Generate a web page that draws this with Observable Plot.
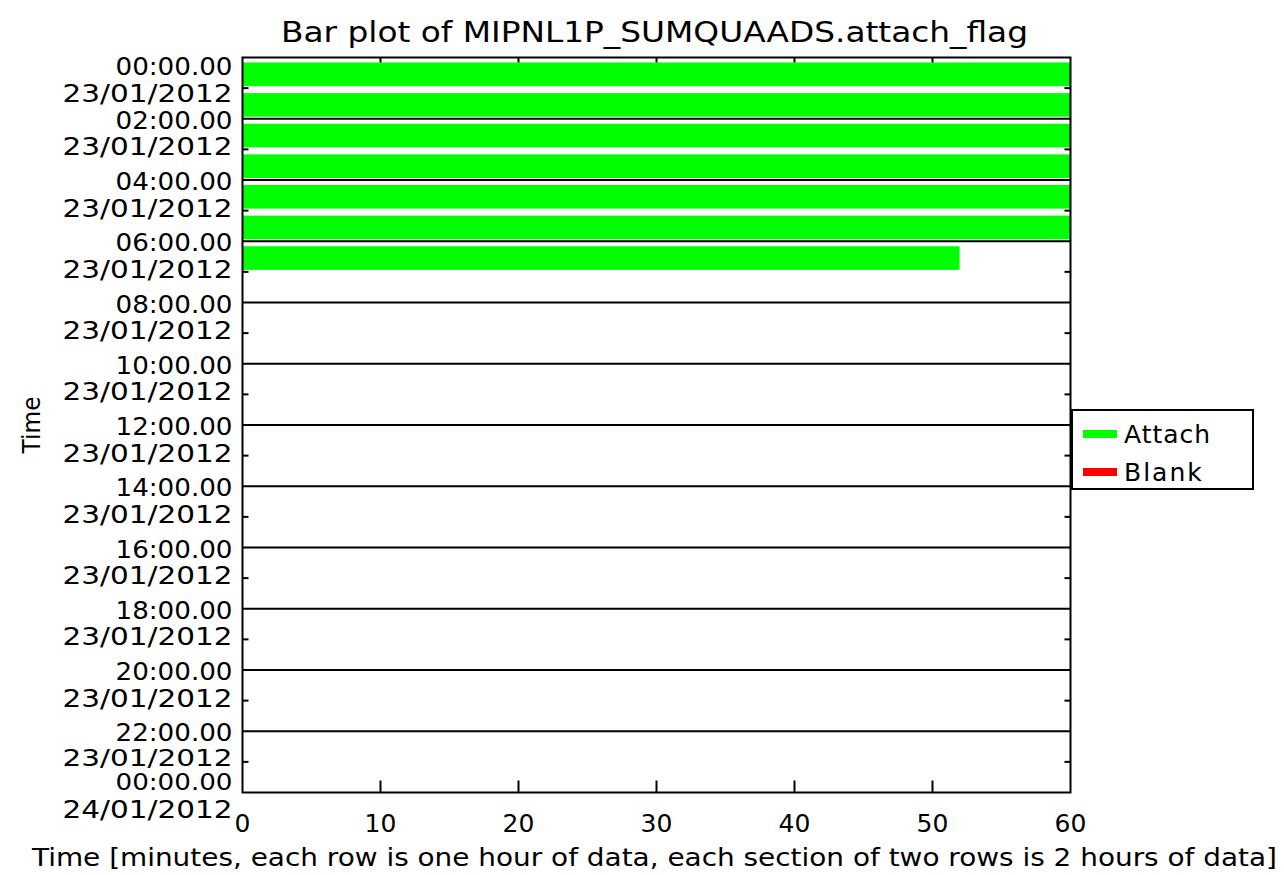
<!DOCTYPE html>
<html><head><meta charset="utf-8">
<script src="https://cdn.jsdelivr.net/npm/d3@7"></script>
<script src="https://cdn.jsdelivr.net/npm/@observablehq/plot@0.6"></script>
<style>
body{margin:0;background:#fff;}
#wrap{position:relative;width:1284px;height:875px;}
#legend{position:absolute;left:1071px;top:409px;width:179px;height:77px;border:2px solid #000;background:#fff;font-family:"DejaVu Sans";font-size:25px;color:#000;}
.item{position:absolute;left:10px;height:30px;display:flex;align-items:center;white-space:nowrap;}
.sw{width:34px;height:8px;margin-right:7px;}
</style></head><body><div id="wrap"></div>
<script>
const title = "Bar plot of MIPNL1P_SUMQUAADS.attach_flag";
const xAxisLabel = "Time [minutes, each row is one hour of data, each section of two rows is 2 hours of data]";
const yAxisLabel = "Time";
const hours = [0, 1, 2, 3, 4, 5, 6];
const attachMinutes = [60, 60, 60, 60, 60, 60, 52];
const blankMinutes = [0, 0, 0, 0, 0, 0, 0];
const seriesNames = ["Attach", "Blank"];
const seriesColors = ["#00ff00", "#ff0000"];
const sectionHours = [0, 2, 4, 6, 8, 10, 12, 14, 16, 18, 20, 22, 24];
const timeLabels = ["00:00.00","02:00.00","04:00.00","06:00.00","08:00.00","10:00.00","12:00.00","14:00.00","16:00.00","18:00.00","20:00.00","22:00.00","00:00.00"];
const dateLabels = ["23/01/2012","23/01/2012","23/01/2012","23/01/2012","23/01/2012","23/01/2012","23/01/2012","23/01/2012","23/01/2012","23/01/2012","23/01/2012","23/01/2012","24/01/2012"];
const xTicks = [0, 10, 20, 30, 40, 50, 60];
const xInnerTicks = [10, 20, 30, 40, 50];
const rowBoundaries = [1, 3, 5, 7, 9, 11, 13, 15, 17, 19, 21, 23];

const rows = hours.map((h, i) => ({hour: h, attach: attachMinutes[i], blank: blankMinutes[i]}));
const labels = sectionHours.map((h, i) => ({hour: h, time: timeLabels[i], date: dateLabels[i]}));
const isMid = d => d.hour > 0 && d.hour < 22;
const is22 = d => d.hour === 22;
const isFirst = d => d.hour === 0;
const isLast = d => d.hour === 24;

const upTick = {draw(ctx) { ctx.moveTo(0, 0); ctx.lineTo(0, -12); }};
const downTick = {draw(ctx) { ctx.moveTo(0, 0); ctx.lineTo(0, 5); }};
const rightTick = {draw(ctx) { ctx.moveTo(0, 0); ctx.lineTo(6, 0); }};
const leftTick = {draw(ctx) { ctx.moveTo(0, 0); ctx.lineTo(-6, 0); }};

const F = 25;
const yText = (filter, key, dy, fs = F) => Plot.text(labels, {filter, y: "hour", text: key, frameAnchor: "left", textAnchor: "end", lineAnchor: "middle", dx: -10, dy, fontSize: fs, fill: "black"});

const chart = Plot.plot({
  width: 1284, height: 875,
  marginLeft: 242, marginRight: 214, marginTop: 57, marginBottom: 83,
  style: {fontFamily: "DejaVu Sans", fontSize: "25px", color: "black", background: "white"},
  x: {domain: [0, 60], axis: null},
  y: {domain: [0, 24], reverse: true, axis: null},
  marks: [
    Plot.rectX(rows, {x: "attach", y: "hour", interval: 1, fill: seriesColors[0], insetTop: 5.5, insetBottom: 1.5}),
    Plot.rectX(rows, {filter: d => d.blank > 0, x: "blank", y: "hour", interval: 1, fill: seriesColors[1], insetTop: 5.5, insetBottom: 1.5}),
    Plot.ruleY(sectionHours.filter(h => h > 0 && h < 24), {stroke: "black", strokeWidth: 2}),
    Plot.frame({stroke: "black", strokeWidth: 2}),
    Plot.dot(xInnerTicks, {x: d => d, frameAnchor: "bottom", symbol: upTick, fill: "none", stroke: "black", strokeWidth: 2}),
    Plot.dot(xInnerTicks, {x: d => d, frameAnchor: "top", symbol: downTick, fill: "none", stroke: "black", strokeWidth: 2}),
    Plot.dot(rowBoundaries, {y: d => d, frameAnchor: "left", symbol: rightTick, fill: "none", stroke: "black", strokeWidth: 2}),
    Plot.dot(rowBoundaries, {y: d => d, frameAnchor: "right", symbol: leftTick, fill: "none", stroke: "black", strokeWidth: 2}),
    yText(isMid, "time", 2),
    yText(isMid, "date", 28.5),
    yText(is22, "time", 2),
    yText(is22, "date", 27.5, 23),
    yText(isFirst, "time", 9.5),
    yText(isFirst, "date", 36),
    yText(isLast, "time", -10, 23),
    yText(isLast, "date", 17),
    Plot.text(xTicks, {x: d => d, text: d => String(d), frameAnchor: "bottom", lineAnchor: "middle", dy: 31, fontSize: F, fill: "black"}),
    Plot.text([xAxisLabel], {frameAnchor: "bottom", lineAnchor: "middle", dx: -2, dy: 65, fontSize: F, fill: "black"}),
    Plot.text([yAxisLabel], {frameAnchor: "left", textAnchor: "middle", lineAnchor: "middle", dx: -211, dy: 0, rotate: -90, fontSize: F, fill: "black"}),
    Plot.text([title], {frameAnchor: "top", textAnchor: "middle", lineAnchor: "middle", dx: -2, dy: -25, fontSize: 29, fill: "black"})
  ]
});

const lengths = new Map([[title, 747], [xAxisLabel, 1245], ["23/01/2012", 170], ["24/01/2012", 170], [yAxisLabel, 57]]);
chart.querySelectorAll("text").forEach(t => {
  const s = t.textContent;
  let L = lengths.get(s);
  if (L == null && /^\d\d:\d\d\.\d\d$/.test(s)) L = 117;
  if (L != null) { t.setAttribute("textLength", L); t.setAttribute("lengthAdjust", "spacingAndGlyphs"); }
});

const wrap = document.getElementById("wrap");
wrap.appendChild(chart);
const legend = document.createElement("div");
legend.id = "legend";
seriesNames.forEach((name, i) => {
  const item = document.createElement("div");
  item.className = "item";
  item.style.top = (i === 0 ? 8 : 46) + "px";
  const sw = document.createElement("span");
  sw.className = "sw";
  sw.style.background = seriesColors[i];
  const tx = document.createElement("span");
  tx.textContent = name;
  tx.style.letterSpacing = i === 0 ? "1px" : "2px";
  item.appendChild(sw); item.appendChild(tx);
  legend.appendChild(item);
});
wrap.appendChild(legend);
</script></body></html>
